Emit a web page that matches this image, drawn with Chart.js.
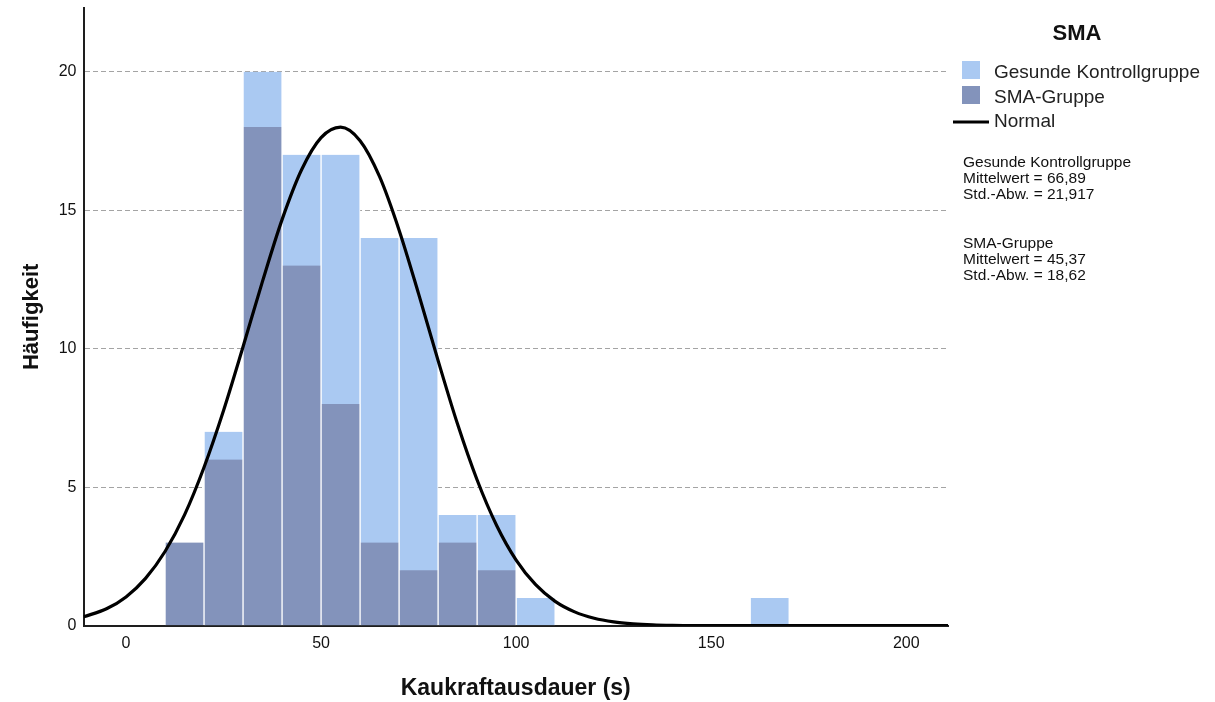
<!DOCTYPE html>
<html><head><meta charset="utf-8">
<script src="https://cdn.jsdelivr.net/npm/chart.js@4/dist/chart.umd.min.js"></script>
<style>html,body{margin:0;padding:0;background:#fff}#wrap{width:1215px;height:702px;position:relative}</style>
</head><body><div id="wrap"><canvas id="c" width="1215" height="702"></canvas></div>
<script>
// ---- data ----
const binCenters = [15, 25, 35, 45, 55, 65, 75, 85, 95, 105, 165];
const gesundeCounts = [0, 7, 20, 17, 17, 14, 14, 4, 4, 1, 1];
const smaCounts = [3, 6, 18, 13, 8, 3, 2, 3, 2, 0, 0];
const curveX = [-10.9, -5, 0, 5, 10, 15, 20, 25, 30, 35, 40, 45, 50, 55, 60, 65, 70, 75, 80, 85, 90, 95, 100, 105, 110, 115, 120, 125, 130, 135, 140, 145, 150, 160, 170, 180, 190, 200, 210.7];
const curveY = [0.32, 0.61, 1.04, 1.71, 2.68, 4.0, 5.72, 7.77, 10.07, 12.44, 14.66, 16.46, 17.62, 18.0, 17.51, 16.21, 14.28, 11.98, 9.57, 7.27, 5.26, 3.62, 2.37, 1.48, 0.88, 0.50, 0.27, 0.14, 0.07, 0.03, 0.01, 0, 0, 0, 0, 0, 0, 0, 0];
const xTicks = [0, 50, 100, 150, 200];
const yTicks = [0, 5, 10, 15, 20];
const seriesNames = ['Gesunde Kontrollgruppe', 'SMA-Gruppe', 'Normal'];
const legendTitle = 'SMA';
const groupMeans = ['66,89', '45,37'];
const groupSDs = ['21,917', '18,62'];
const xTitle = 'Kaukraftausdauer (s)';
const yTitle = 'Häufigkeit';

const FONT = '"Liberation Sans", Arial, Helvetica, sans-serif';
const LIGHT = '#aac9f2';
const DARK = '#8393bb';

const toXY = (xs, ys) => xs.map((x, i) => ({x: x, y: ys[i]}));

const sideLegend = {
  id: 'sideLegend',
  afterDraw(chart) {
    const ctx = chart.ctx;
    const ds = chart.data.datasets;
    const x0 = chart.chartArea.right + 14;
    ctx.save();
    ctx.textBaseline = 'middle';
    ctx.fillStyle = '#111';
    ctx.textAlign = 'center';
    ctx.font = 'bold 22px ' + FONT;
    ctx.fillText(legendTitle, 1077, 34);
    ctx.textAlign = 'left';
    ctx.font = '19px ' + FONT;
    const rows = [73, 98, 122];
    ds.forEach((d, i) => {
      const y = rows[i];
      if (d.type === 'line') {
        ctx.strokeStyle = d.borderColor;
        ctx.lineWidth = 3;
        ctx.beginPath();
        ctx.moveTo(x0 - 9, y);
        ctx.lineTo(x0 + 27, y);
        ctx.stroke();
      } else {
        ctx.fillStyle = d.backgroundColor;
        ctx.fillRect(x0, y - 12, 18, 18);
      }
      ctx.fillStyle = '#222';
      ctx.fillText(d.label, x0 + 32, y);
    });
    ctx.fillStyle = '#111';
    ctx.font = '15.5px ' + FONT;
    const blocks = [163, 244];
    groupMeans.forEach((m, g) => {
      const y = blocks[g];
      const lines = [seriesNames[g], 'Mittelwert = ' + m, 'Std.-Abw. = ' + groupSDs[g]];
      lines.forEach((t, k) => ctx.fillText(t, x0 + 1, y + k * 15.8));
    });
    ctx.restore();
  }
};

new Chart(document.getElementById('c'), {
  type: 'bar',
  data: {
    datasets: [
      {
        label: seriesNames[0], data: toXY(binCenters, gesundeCounts),
        backgroundColor: LIGHT, borderColor: '#ffffff',
        borderWidth: {left: 1, right: 1, top: 0, bottom: 0},
        barPercentage: 1, categoryPercentage: 1, grouped: false, order: 2
      },
      {
        label: seriesNames[1], data: toXY(binCenters, smaCounts),
        backgroundColor: DARK, borderColor: '#ffffff',
        borderWidth: {left: 1, right: 1, top: 0, bottom: 0},
        barPercentage: 1, categoryPercentage: 1, grouped: false, order: 1
      },
      {
        type: 'line', label: seriesNames[2], data: toXY(curveX, curveY),
        borderColor: '#000000', borderWidth: 3.2, pointRadius: 0,
        cubicInterpolationMode: 'monotone', fill: false, order: 0
      }
    ]
  },
  options: {
    responsive: false, animation: false, events: [],
    layout: {padding: {top: 8, right: 267, left: 0, bottom: 0}},
    plugins: {legend: {display: false}, tooltip: {enabled: false}},
    scales: {
      x: {
        type: 'linear', min: -10.9, max: 210.7, z: 1, offset: false,
        afterFit: (s) => { s.height = 76.3; s.paddingLeft = 0; s.paddingRight = 0; },
        afterBuildTicks: (s) => { s.ticks = xTicks.map(v => ({value: v})); },
        grid: {display: false, offset: false, drawTicks: false, tickLength: 0},
        border: {display: true, color: '#1e1e1e', width: 2},
        ticks: {
          padding: 8, color: '#111', font: {family: FONT, size: 16},
          autoSkip: false, maxRotation: 0, minRotation: 0
        },
        title: {display: true, text: xTitle, color: '#111', font: {family: FONT, size: 23, weight: 'bold'}, padding: {top: 4, bottom: 0}}
      },
      y: {
        type: 'linear', min: 0, max: 22.3, z: 1,
        afterFit: (s) => { s.width = 83.5; s.paddingTop = 0; s.paddingBottom = 0; },
        afterBuildTicks: (s) => { s.ticks = yTicks.map(v => ({value: v})); },
        grid: {
          drawTicks: false, tickLength: 0, lineWidth: 1,
          color: (c) => (c.tick && c.tick.value === 0) ? 'rgba(0,0,0,0)' : '#a4a4a4'
        },
        border: {display: true, color: '#1e1e1e', width: 2, dash: [5, 3]},
        ticks: {
          padding: 7, color: '#111', font: {family: FONT, size: 16}
        },
        title: {display: true, text: yTitle, color: '#111', font: {family: FONT, size: 22, weight: 'bold'}, padding: {top: 19, bottom: 0}}
      }
    }
  },
  plugins: [sideLegend]
});
</script>
</body></html>
